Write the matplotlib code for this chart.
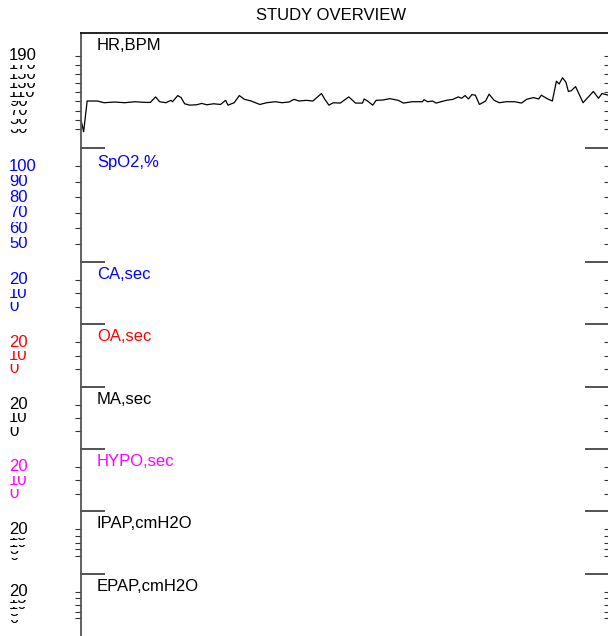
import matplotlib
matplotlib.use("Agg")
import matplotlib.pyplot as plt

plt.rcParams['font.family'] = ['Liberation Sans', 'DejaVu Sans']

title = "STUDY OVERVIEW"
panel_names = ["HR,BPM", "SpO2,%", "CA,sec", "OA,sec", "MA,sec",
               "HYPO,sec", "IPAP,cmH2O", "EPAP,cmH2O"]
panel_colors = ["black", "#0000ff", "#0000ff", "#ff0000", "black",
                "#ff00ff", "black", "black"]
panel_ticks = [
    [30, 50, 70, 90, 110, 130, 150, 170, 190],
    [50, 60, 70, 80, 90, 100],
    [0, 10, 20], [0, 10, 20], [0, 10, 20], [0, 10, 20],
    [0, 5, 10, 15, 20], [0, 5, 10, 15, 20],
]
panel_ylims = [(-10.7, 238.9), (38.5, 111.8)] + [(-13.3, 33.5)] * 6

# heart rate trace (minutes from start, beats per minute)
hr_time_min = [
    0, 2.4, 5.6, 14.9, 21.1, 30.5, 39.8, 49.2, 58.5, 63.2,
    67.9, 71.6, 77.2, 81.9, 83.4, 88.1, 91.2, 94.4, 99.0, 105.2,
    110.0, 114.6, 120.8, 127.1, 131.7, 133.9, 139.5, 144.2, 148.9, 155.1,
    162.9, 169.1, 176.9, 183.1, 189.4, 194.0, 198.7, 205.0, 211.2, 219.0,
    222.1, 225.8, 229.9, 236.1, 243.9, 250.1, 256.4, 257.9, 261.0, 265.7,
    268.8, 275.0, 281.3, 289.0, 293.8, 301.5, 310.9, 312.5, 315.6, 320.2,
    323.3, 332.7, 338.9, 343.6, 346.7, 349.8, 352.9, 356.1, 359.2, 362.9,
    368.5, 371.7, 376.3, 381.0, 387.2, 395.0, 401.2, 405.9, 412.1, 416.8,
    419.3, 424.6, 429.3, 433.0, 435.5, 438.6, 441.7, 443.9, 446.4, 450.5,
    457.3, 466.7, 471.3, 474.5, 480,
]
hr_bpm = [
    50.0, 24.0, 91.0, 91.0, 87.3, 88.8, 87.3, 89.5, 88.0, 88.0,
    100.0, 89.5, 87.3, 92.5, 89.5, 102.9, 98.5, 85.0, 82.0, 82.8,
    85.8, 82.8, 85.0, 83.5, 92.5, 82.0, 87.3, 102.9, 94.7, 91.0,
    83.5, 87.3, 89.5, 87.3, 88.8, 94.7, 91.0, 92.5, 91.0, 107.4,
    94.7, 82.0, 87.3, 86.5, 100.0, 86.5, 86.5, 95.5, 91.0, 82.0,
    92.5, 93.2, 96.2, 92.5, 86.5, 89.5, 89.5, 94.0, 89.5, 91.0,
    86.5, 92.5, 94.7, 100.0, 97.0, 102.9, 95.5, 105.2, 103.7, 83.5,
    91.0, 106.0, 92.5, 87.3, 89.5, 89.5, 86.5, 94.7, 98.5, 95.5,
    103.7, 96.2, 91.0, 134.3, 128.3, 141.8, 132.1, 111.9, 113.4, 122.4,
    87.3, 111.9, 97.0, 107.4, 104.0,
]
x_range = (0, 480)

W, H = 608, 636
fig = plt.figure(figsize=(W / 100, H / 100), dpi=100)
left_px, top_px = 81, 33.3
big_h, small_h = 114.3, 62.35
ratios = [big_h, big_h] + [small_h] * 6
gs = fig.add_gridspec(8, 1, height_ratios=ratios, left=left_px / W, right=1.0,
                      top=1 - top_px / H, bottom=0.0, hspace=0)

axw = W - left_px
spine_col = "#555555"
for i in range(8):
    ax = fig.add_subplot(gs[i])
    ax.set_xlim(*x_range)
    ax.set_ylim(*panel_ylims[i])
    ax.set_xticks([])
    for s in ("right", "bottom"):
        ax.spines[s].set_visible(False)
    ax.spines["top"].set_visible(i == 0)
    ax.spines["top"].set_color("black")
    ax.spines["top"].set_linewidth(1.2)
    ax.spines["left"].set_color(spine_col)
    ax.spines["left"].set_linewidth(1.3)
    ticks = panel_ticks[i]
    ax.set_yticks(ticks, [str(t) for t in ticks])
    ax.tick_params(axis="y", direction="out", length=4, width=0.8,
                   color="#333333", pad=47.8, labelsize=12,
                   labelcolor=panel_colors[i])
    for lab in ax.get_yticklabels():
        lab.set_ha("left")
        lab.set_va("center")
        lab.set_bbox(dict(facecolor="white", edgecolor="none", pad=1))

    ax2 = ax.twinx()
    ax2.set_ylim(*panel_ylims[i])
    ax2.set_yticks(ticks)
    ax2.tick_params(axis="y", direction="in", length=3, width=0.8,
                    color="#333333", labelright=False)
    for s in ax2.spines.values():
        s.set_visible(False)

    if i > 0:
        ax.plot([0, 24 / axw], [1, 1], transform=ax.transAxes, color="#444444",
                lw=1.3, clip_on=False, solid_capstyle="butt")
        ax.plot([1 - 23 / axw, 1], [1, 1], transform=ax.transAxes,
                color="#444444", lw=1.3, clip_on=False, solid_capstyle="butt")

    yoff = -7 if i == 1 else -5
    ax.annotate(panel_names[i], xy=(0, 1), xycoords="axes fraction",
                xytext=(16, yoff), textcoords="offset pixels",
                ha="left", va="top", fontsize=12, color=panel_colors[i])

    if i == 0:
        ax.plot(hr_time_min, hr_bpm, color="black", lw=0.9)

fig.text(331.5 / W, 1 - 15.7 / H, title, ha="center", va="center", fontsize=12)

fig.savefig("out.png", dpi=100)
